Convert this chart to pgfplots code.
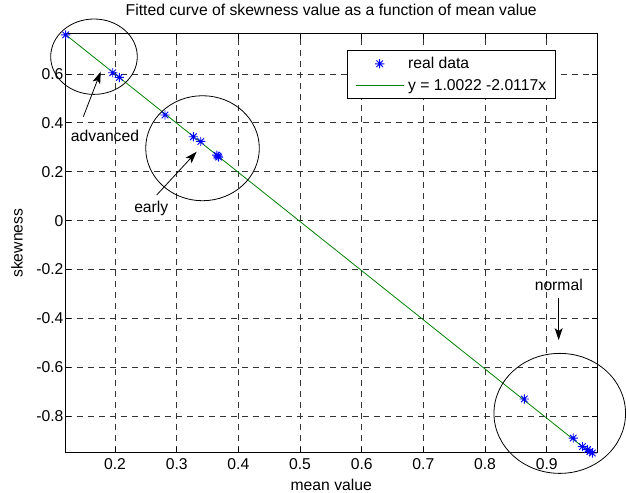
\documentclass[border=0pt]{standalone}
\usepackage{fontspec}
\setmainfont{Liberation Sans}
\usepackage{pgfplots}
\pgfplotsset{compat=1.18}
\usetikzlibrary{arrows.meta}
\definecolor{mgreen}{RGB}{0,128,0}
\pgfdeclareplotmark{mstar}{%
  \pgfpathmoveto{\pgfqpoint{-\pgfplotmarksize}{0pt}}\pgfpathlineto{\pgfqpoint{\pgfplotmarksize}{0pt}}%
  \pgfpathmoveto{\pgfqpoint{0pt}{-\pgfplotmarksize}}\pgfpathlineto{\pgfqpoint{0pt}{\pgfplotmarksize}}%
  \pgfpathmoveto{\pgfqpoint{-0.707\pgfplotmarksize}{-0.707\pgfplotmarksize}}\pgfpathlineto{\pgfqpoint{0.707\pgfplotmarksize}{0.707\pgfplotmarksize}}%
  \pgfpathmoveto{\pgfqpoint{-0.707\pgfplotmarksize}{0.707\pgfplotmarksize}}\pgfpathlineto{\pgfqpoint{0.707\pgfplotmarksize}{-0.707\pgfplotmarksize}}%
  \pgfusepathqstroke}
\begin{document}
\begin{tikzpicture}[font=\fontsize{15.7bp}{18.8bp}\selectfont]
\useasboundingbox (0,0) rectangle (626bp,493bp);
\begin{axis}[
  at={(65.5bp,40.5bp)}, anchor=south west,
  scale only axis, width=531.5bp, height=418.5bp,
  xmin=0.1197, xmax=0.9816, ymin=-0.949, ymax=0.7637,
  clip=false,
  xtick={0.2,0.3,0.4,0.5,0.6,0.7,0.8,0.9},
  xticklabels={0.2,0.3,0.4,0.5,0.6,0.7,0.8,0.9},
  ytick={-0.8,-0.6,-0.4,-0.2,0,0.2,0.4,0.6},
  yticklabels={-0.8,-0.6,-0.4,-0.2,0,0.2,0.4,0.6},
  grid=major,
  major grid style={black!80, line width=0.75bp, dash pattern=on 6bp off 5bp},
  tick align=inside, major tick length=5bp,
  tick style={black, line width=0.8bp},
  axis line style={line width=1bp},
  xticklabel style={yshift=-2.8bp},
  yticklabel style={xshift=1.5bp},
  title={Fitted curve of skewness value as a function of mean value},
  title style={at={(0.5,1)}, anchor=base, yshift=12.3bp},
  xlabel={mean value},
  xlabel style={at={(axis description cs:0.5,0)}, anchor=base, inner sep=0pt, yshift=-37.8bp},
  ylabel={skewness},
  ylabel style={at={(axis description cs:-0.0913,0.5)}, anchor=center},
  legend style={at={(0.530,0.9618)}, anchor=north west, draw=black, line width=0.8bp,
    inner xsep=7.7bp, inner ysep=5bp, row sep=5bp, column sep=2bp, cells={anchor=west}},
  legend image code/.code={\draw[mark repeat=2,mark phase=2,#1] plot coordinates {(0bp,0bp) (24bp,0bp) (48bp,0bp)};},
]
\addplot[only marks, mark=mstar, mark size=4.6bp, color=blue, mark options={line width=0.9bp}] coordinates {
 (0.120,0.760) (0.1963,0.605) (0.207,0.586) (0.281,0.432) (0.327,0.343) (0.339,0.324)
 (0.365,0.268) (0.367,0.264) (0.368,0.260) (0.8637,-0.730) (0.943,-0.890) (0.958,-0.925)
 (0.966,-0.937) (0.970,-0.945) (0.974,-0.951)
};
\addlegendentry{real data}
\addplot[color=mgreen, line width=0.8bp] coordinates {(0.1197,0.7614) (0.972,-0.9532)};
\addlegendentry{y = 1.0022 -2.0117x}

\draw[line width=0.8bp] (axis cs:0.1659,0.6708) ellipse [x radius=43.3bp, y radius=37.7bp];
\draw[line width=0.8bp] (axis cs:0.3419,0.2962) ellipse [x radius=56.8bp, y radius=52.5bp];
\draw[line width=0.8bp] (axis cs:0.9212,-0.7889) ellipse [x radius=65.8bp, y radius=60bp];
\draw[-{Stealth[length=12bp,width=8bp,inset=3bp]}, line width=0.8bp] (axis cs:0.1486,0.4252) -- (axis cs:0.1768,0.6094);
\draw[-{Stealth[length=12bp,width=8bp,inset=3bp]}, line width=0.8bp] (axis cs:0.2676,0.1047) -- (axis cs:0.3324,0.2819);
\draw[-{Stealth[length=12bp,width=8bp,inset=3bp]}, line width=0.8bp] (axis cs:0.9194,-0.3182) -- (axis cs:0.9194,-0.489);
\node[anchor=base, inner sep=0pt] at (axis cs:0.1838,0.3257) {advanced};
\node[anchor=base, inner sep=0pt] at (axis cs:0.2588,0.0322) {early};
\node[anchor=base, inner sep=0pt] at (axis cs:0.9196,-0.287) {normal};
\end{axis}
\end{tikzpicture}
\end{document}
